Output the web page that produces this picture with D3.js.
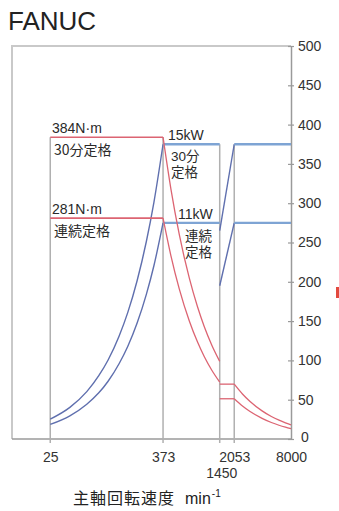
<!DOCTYPE html>
<html>
<head>
<meta charset="utf-8">
<script src="https://cdn.jsdelivr.net/npm/d3@7"></script>
<style>
  html, body { margin: 0; padding: 0; background: #fff; }
  svg { display: block; }
  text { font-family: "Liberation Sans", Arial, "Noto Sans CJK JP", sans-serif; fill: #2a2a2a; }
  .cjk { font-family: "Noto Sans CJK JP", "Liberation Sans", sans-serif; }
</style>
</head>
<body>
<svg id="chart" width="339" height="511"></svg>
<script>
// ---- data ----
const title = "FANUC";
const speedTicks = [25, 373, 2053, 8000];
const speedTickLow = [1450];
const yTicks = [0, 50, 100, 150, 200, 250, 300, 350, 400, 450, 500];
const ratingNames = ["30分定格", "連続定格"];
const ratingNamesSplit = [["30分", "定格"], ["連続", "定格"]];

// rated torque (N·m) and rated power (kW) for 30-min and continuous ratings
const torqueRated = [384, 281];
const powerRated = [15, 11];
const kwToAxis = 25; // power drawn on the same 0–500 axis (1 kW = 25 units)

// base speed, winding switch speeds, max speed (min^-1)
const baseSpeed = 373;
const switchLow = 1450;
const switchHigh = 2053;
const maxSpeed = 8000;
const minSpeed = 25;

// power rise in the constant-torque range (kW)
const riseSpeeds = [25, 40, 60, 80, 100, 130, 160, 200, 250, 300, 373];
const risePower30 = [1.01, 1.61, 2.41, 3.22, 4.02, 5.23, 6.43, 8.04, 10.05, 12.06, 15.0];
const risePowerCont = [0.74, 1.18, 1.77, 2.35, 2.94, 3.83, 4.71, 5.89, 7.36, 8.83, 11.0];

// torque fall in the constant-power range, low winding (N·m)
const fallSpeedsLow = [373, 450, 550, 700, 850, 1000, 1200, 1450];
const fallTorque30Low = [384, 318.3, 260.4, 204.6, 168.5, 143.2, 119.4, 98.8];
const fallTorqueContLow = [281, 233.4, 191.0, 150.1, 123.6, 105.0, 87.5, 72.4];

// torque in the high winding range (N·m)
const switchTorque = [69.8, 51.2];
const fallSpeedsHigh = [2053, 2500, 3000, 4000, 5000, 6000, 7000, 8000];
const fallTorque30High = [69.8, 57.3, 47.7, 35.8, 28.6, 23.9, 20.5, 17.9];
const fallTorqueContHigh = [51.2, 42.0, 35.0, 26.3, 21.0, 17.5, 15.0, 13.1];

// power at the lower switch speed, after changing winding (kW)
const switchPower = [10.6, 7.8];

// ---- layout ----
const svg = d3.select("#chart");
const x = d3.scaleLog().domain([10, 8000]).range([12, 291]);
const y = d3.scaleLinear().domain([0, 500]).range([439, 46]);

const RED = "#dc6472";
const BLUE_CURVE = "#5f6fae";
const BLUE_FLAT = "#7ea4d4";
const GRAY = "#b0b0b0";

svg.append("text").attr("x", 8).attr("y", 30)
  .attr("font-size", 26).style("fill", "#222").text(title);

// frame (left and top)
svg.append("path")
  .attr("d", `M${x(10)},${y(0)} V${y(500)} H${x(8000)}`)
  .attr("fill", "none").attr("stroke", "#c9c9c9").attr("stroke-width", 2);

// bottom axis line
svg.append("line")
  .attr("x1", x(10)).attr("x2", x(8000)).attr("y1", y(0)).attr("y2", y(0))
  .attr("stroke", "#9a9a9a").attr("stroke-width", 1.5);

// right axis
const yAxis = d3.axisRight(y).tickValues(yTicks).tickSize(0).tickPadding(7);
const gy = svg.append("g").attr("transform", `translate(${x(8000)},0)`).call(yAxis);
gy.select(".domain").attr("stroke", "#9a9a9a").attr("stroke-width", 1.5);
gy.selectAll(".tick text").attr("font-size", 14).attr("font-family", null).style("fill", "#333");
gy.selectAll(".tick").filter(d => d === 0).select("text").attr("x", 10).attr("dy", "0.2em");
gy.selectAll(".tick").append("line")
  .attr("x1", -3).attr("x2", 3).attr("stroke", "#9a9a9a").attr("stroke-width", 1.2);

// vertical guide lines at characteristic speeds
const guides = [
  { s: minSpeed, top: torqueRated[0] },
  { s: baseSpeed, top: torqueRated[0] },
  { s: switchLow, top: powerRated[0] * kwToAxis },
  { s: switchHigh, top: powerRated[0] * kwToAxis }
];
svg.selectAll("line.guide").data(guides).join("line")
  .attr("class", "guide")
  .attr("x1", d => x(d.s)).attr("x2", d => x(d.s))
  .attr("y1", d => y(d.top)).attr("y2", y(0) + 4)
  .attr("stroke", GRAY).attr("stroke-width", 1.5);

// bottom speed labels
const xAxis = d3.axisBottom(x).tickValues(speedTicks).tickSize(0).tickPadding(13)
  .tickFormat(d3.format("d"));
const gx = svg.append("g").attr("transform", `translate(0,${y(0)})`).call(xAxis);
gx.select(".domain").remove();
gx.selectAll(".tick text").attr("font-size", 14).attr("font-family", null).style("fill", "#333");
svg.selectAll("text.low").data(speedTickLow).join("text")
  .attr("class", "low")
  .attr("x", d => x(d) + 2).attr("y", 478)
  .attr("text-anchor", "middle").attr("font-size", 14).style("fill", "#333")
  .text(d => d);

// axis title
const at = svg.append("text").attr("x", 73).attr("y", 504).attr("font-size", 16)
  .style("fill", "#222");
at.append("tspan").attr("class", "cjk").attr("letter-spacing", 1).text("主軸回転速度");
at.append("tspan").attr("dx", 10).text("min");
at.append("tspan").attr("dx", 1).attr("dy", -7).attr("font-size", 10).text("-1");

const lineSmooth = d3.line().x(d => x(d[0])).y(d => y(d[1])).curve(d3.curveMonotoneX);
const lineStraight = d3.line().x(d => x(d[0])).y(d => y(d[1]));

function draw(points, color, width, gen) {
  svg.append("path").attr("d", gen(points))
    .attr("fill", "none").attr("stroke", color).attr("stroke-width", width)
    .attr("stroke-linejoin", "round");
}

// power characteristics (blue)
const risePower = [risePower30, risePowerCont];
[0, 1].forEach(i => {
  const P = powerRated[i] * kwToAxis;
  draw(riseSpeeds.map((s, k) => [s, risePower[i][k] * kwToAxis]), BLUE_CURVE, 1.4, lineSmooth);
  draw([[baseSpeed, P], [switchLow, P]], BLUE_FLAT, 2.4, lineStraight);
  draw([[switchLow, switchPower[i] * kwToAxis], [switchHigh, P]], BLUE_CURVE, 1.4, lineStraight);
  draw([[switchHigh, P], [maxSpeed, P]], BLUE_FLAT, 2.4, lineStraight);
});

// torque characteristics (red)
const fallLow = [fallTorque30Low, fallTorqueContLow];
const fallHigh = [fallTorque30High, fallTorqueContHigh];
[0, 1].forEach(i => {
  draw([[minSpeed, torqueRated[i]], [baseSpeed, torqueRated[i]]], RED, 1.6, lineStraight);
  draw(fallSpeedsLow.map((s, k) => [s, fallLow[i][k]]), RED, 1.3, lineSmooth);
  draw([[switchLow, switchTorque[i]], [switchHigh, switchTorque[i]]], RED, 1.3, lineStraight);
  draw(fallSpeedsHigh.map((s, k) => [s, fallHigh[i][k]]), RED, 1.3, lineSmooth);
});

// rating labels
const labels = [
  { t: `${torqueRated[0]}N·m`, x: 52, y: 133 },
  { t: ratingNames[0], x: 54, y: 155, cjk: true },
  { t: `${torqueRated[1]}N·m`, x: 52, y: 214 },
  { t: ratingNames[1], x: 54, y: 236, cjk: true },
  { t: `${powerRated[0]}kW`, x: 168, y: 140 },
  { t: `${powerRated[1]}kW`, x: 178, y: 219 }
];
svg.selectAll("text.lbl").data(labels).join("text")
  .attr("class", d => d.cjk ? "lbl cjk" : "lbl")
  .attr("x", d => d.x).attr("y", d => d.y)
  .attr("font-size", 14).style("fill", "#2a2a2a")
  .text(d => d.t);

// two-line rating labels beside the power curves
const stacked = [
  { lines: ratingNamesSplit[0], x: 171, y: 161 },
  { lines: ratingNamesSplit[1], x: 185, y: 241 }
];
stacked.forEach(s => {
  s.lines.forEach((ln, k) => {
    svg.append("text")
      .attr("x", s.x).attr("y", s.y + k * 16)
      .attr("font-size", 13.5).style("fill", "#2a2a2a")
      .text(ln);
  });
});

// small red mark at the right edge
svg.append("rect").attr("x", 336).attr("y", 287).attr("width", 3).attr("height", 11)
  .attr("fill", "#e2493e");
</script>
</body>
</html>
